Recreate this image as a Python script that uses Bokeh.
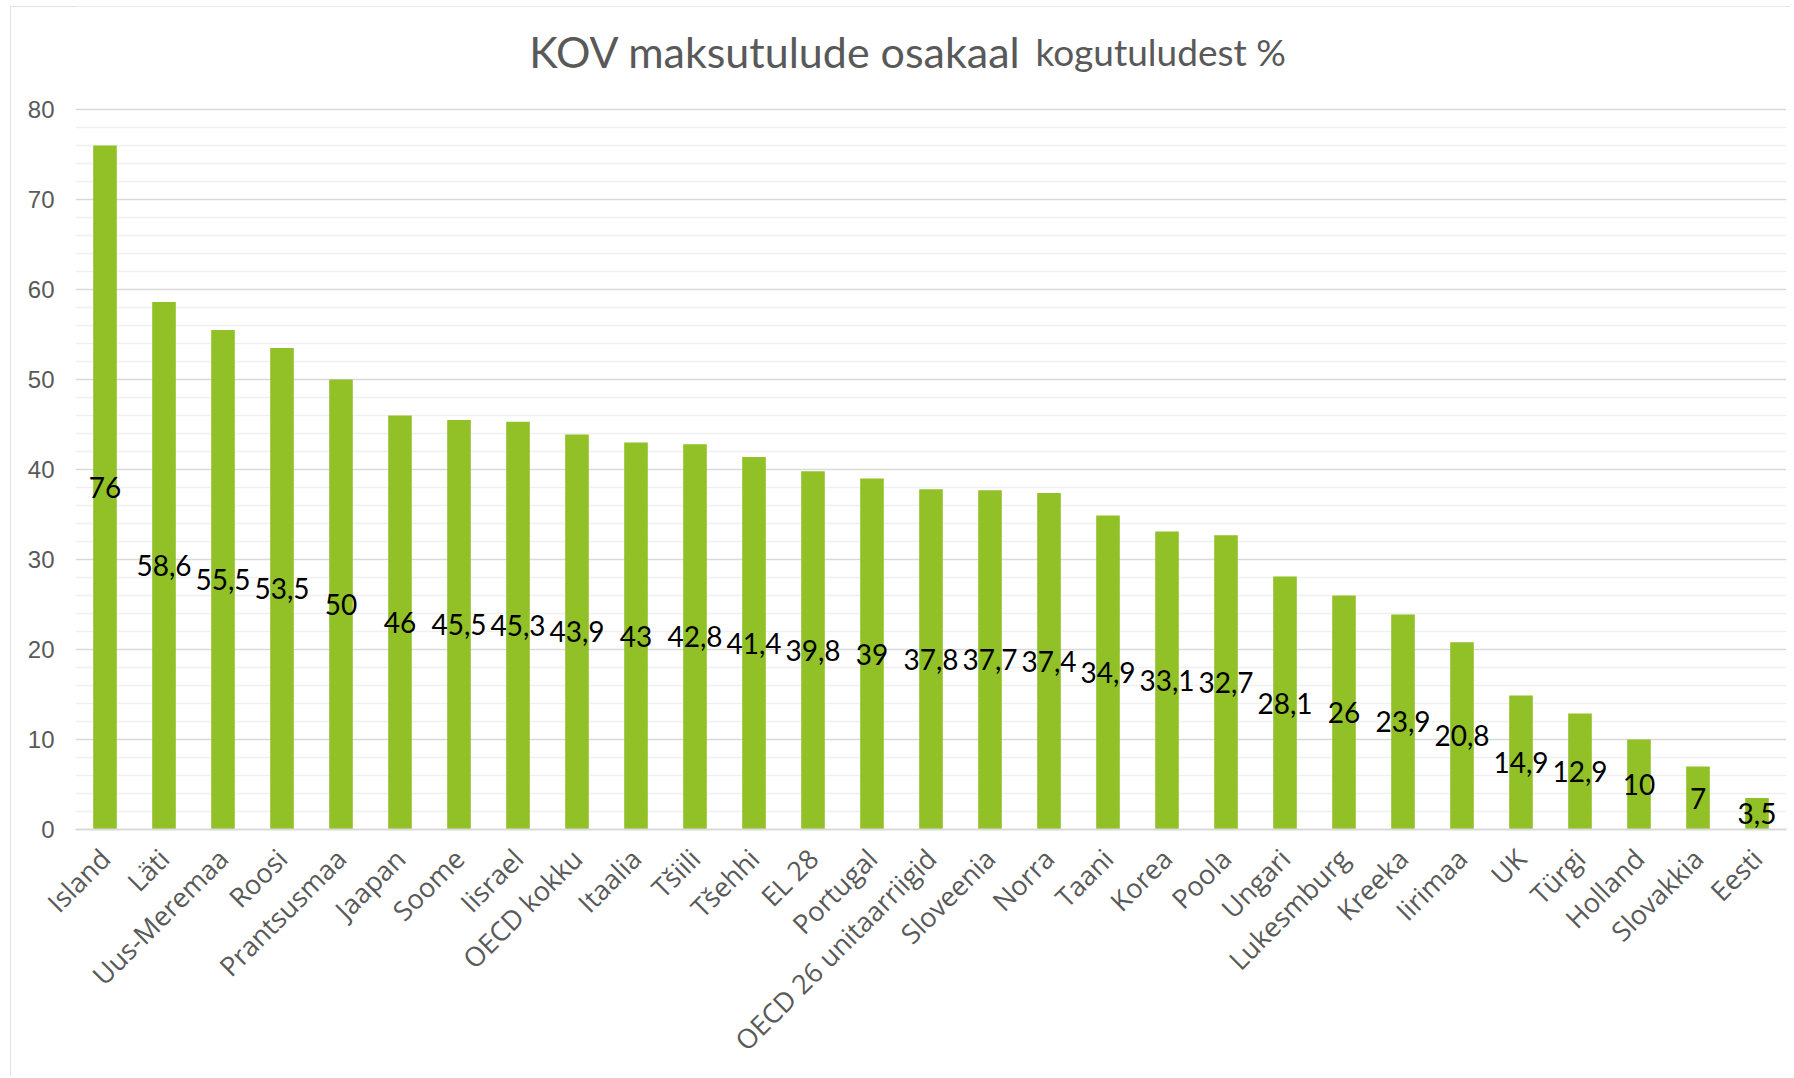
from bokeh.plotting import figure
from bokeh.models import FixedTicker, Label, ColumnDataSource, FactorRange, Range1d
from bokeh.core.properties import value
from bokeh.embed import file_html
from bokeh.resources import INLINE
import math

categories = ["Island", "Läti", "Uus-Meremaa", "Roosi", "Prantsusmaa", "Jaapan", "Soome",
              "Iisrael", "OECD kokku", "Itaalia", "Tšiili", "Tšehhi", "EL 28", "Portugal",
              "OECD 26 unitaarriigid", "Sloveenia", "Norra", "Taani", "Korea", "Poola",
              "Ungari", "Lukesmburg", "Kreeka", "Iirimaa", "UK", "Türgi", "Holland",
              "Slovakkia", "Eesti"]
values = [76, 58.6, 55.5, 53.5, 50, 46, 45.5, 45.3, 43.9, 43, 42.8, 41.4, 39.8, 39,
          37.8, 37.7, 37.4, 34.9, 33.1, 32.7, 28.1, 26, 23.9, 20.8, 14.9, 12.9, 10, 7, 3.5]
y_ticks = [0, 10, 20, 30, 40, 50, 60, 70, 80]
title_main = "KOV maksutulude osakaal"
title_sub = "kogutuludest %"

def fmt(v):
    s = ("%g" % v)
    return s.replace(".", ",")

src = ColumnDataSource(dict(
    cat=categories,
    val=values,
    mid=[v / 2 for v in values],
    lab=[fmt(v) for v in values],
))

W, H = 1780, 1070
p = figure(width=W, height=H, output_backend="svg", toolbar_location=None,
           x_range=FactorRange(factors=categories, range_padding=0),
           y_range=Range1d(0, 80 + 103 / 9),
           min_border_left=65, min_border_right=4, min_border_top=0, min_border_bottom=247,
           styles={"margin-left": "10px", "margin-top": "6px",
                   "outline": "2px solid #d9d9d9", "outline-offset": "-2px"})
p.outline_line_color = None
p.background_fill_color = "white"
p.border_fill_color = "white"

p.vbar(x="cat", top="val", width=0.4, source=src, fill_color="#91C027", line_color=None)
p.text(x="cat", y="mid", text="lab", source=src, text_align="center",
       text_baseline="middle", text_font=value("Lato"), text_font_size="28px",
       text_color="black")

# grid
p.xgrid.visible = False
p.ygrid.ticker = FixedTicker(ticks=y_ticks, minor_ticks=[t for t in range(0, 81, 2) if t % 10])
p.ygrid.grid_line_color = "#d9d9d9"
p.ygrid.grid_line_width = 1.5
p.ygrid.minor_grid_line_color = "#f0f0f0"
p.ygrid.minor_grid_line_width = 1.5

# y axis
p.yaxis.ticker = FixedTicker(ticks=y_ticks)
p.yaxis.axis_line_color = None
p.yaxis.major_tick_line_color = None
p.yaxis.minor_tick_line_color = None
p.yaxis.major_label_standoff = 15
p.yaxis.major_label_text_font = "Liberation Sans"
p.yaxis.major_label_text_font_size = "24px"
p.yaxis.major_label_text_color = "#595959"

# x axis
p.xaxis.axis_line_color = "#d9d9d9"
p.xaxis.axis_line_width = 2
p.xaxis.major_tick_line_color = None
p.xaxis.minor_tick_line_color = None
p.xaxis.major_label_orientation = math.pi / 4
p.xaxis.major_label_standoff = 18
p.xaxis.major_label_text_font = "Open Sans"
p.xaxis.major_label_text_font_size = "27px"
p.xaxis.major_label_text_color = "#595959"

# title in two sizes
p.add_layout(Label(x=16.03, y=86.4, text=title_main, text_align="right",
                   text_baseline="alphabetic", text_font="Lato", text_font_size="43px",
                   text_color="#595959"))
p.add_layout(Label(x=16.27, y=86.4, text=title_sub, text_align="left",
                   text_baseline="alphabetic", text_font="Lato", text_font_size="37px",
                   text_color="#595959"))

open("out.html", "w").write(file_html(p, INLINE))
